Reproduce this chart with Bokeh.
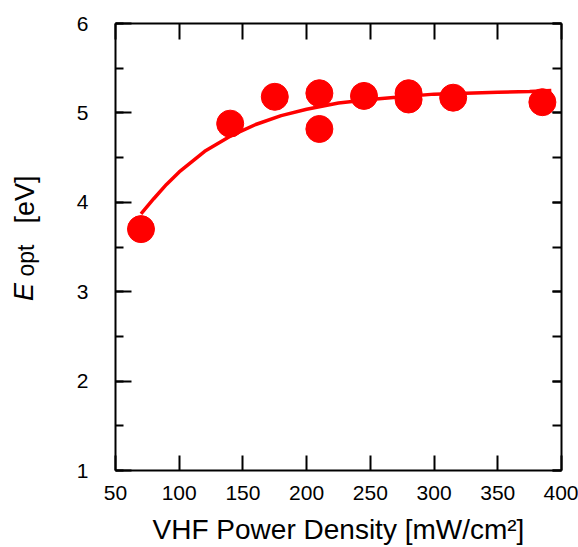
from math import pi
from bokeh.plotting import figure
from bokeh.layouts import row
from bokeh.models import Range1d, LinearAxis, SingleIntervalTicker, Label, CustomJSTickFormatter
from bokeh.embed import file_html
from bokeh.resources import INLINE

# measured points
power = [70, 140, 175, 210, 210, 245, 280, 280, 315, 385]
eopt = [3.70, 4.88, 5.18, 5.22, 4.82, 5.19, 5.22, 5.15, 5.17, 5.12]

# fitted curve
fit_power = [70, 80, 90, 100, 120, 140, 160, 180, 200, 225, 250, 275, 300, 325, 350, 375, 392]
fit_eopt = [3.87, 4.04, 4.20, 4.34, 4.57, 4.74, 4.87, 4.97, 5.04, 5.11, 5.15, 5.18, 5.21, 5.22, 5.23, 5.24, 5.25]

x_label = "VHF Power Density [mW/cm²]"
y_label_main = "E"
y_label_sub = "opt"
y_label_unit = "[eV]"

RED = "#ff0000"
FONT = "Liberation Sans"
LABW = 73
TOP, BOTTOM = 23, 77

# ---- main plot ----
p = figure(width=578 - LABW, height=547, x_range=Range1d(50, 400), y_range=Range1d(1, 6),
           output_backend="svg", toolbar_location=None,
           min_border_left=113 - LABW, min_border_right=17, min_border_top=TOP, min_border_bottom=BOTTOM)
p.outline_line_color = None
p.xgrid.visible = False
p.ygrid.visible = False

xa = p.xaxis[0]
xa.ticker = SingleIntervalTicker(interval=50, num_minor_ticks=0)
xa.major_tick_in = 15
xa.major_tick_out = 0
xa.minor_tick_in = 0
xa.minor_tick_out = 0
xa.axis_line_width = 2
xa.major_tick_line_width = 2
xa.major_label_text_font = FONT
xa.major_label_text_font_size = "21px"
xa.major_label_text_color = "black"
xa.major_label_standoff = 15
xa.axis_label = x_label
xa.axis_label_text_font = FONT
xa.axis_label_text_font_size = "28px"
xa.axis_label_text_font_style = "normal"
xa.axis_label_text_color = "black"
xa.axis_label_standoff = 11

ya = p.yaxis[0]
ya.ticker = SingleIntervalTicker(interval=1, num_minor_ticks=2)
ya.major_tick_in = 16
ya.major_tick_out = 0
ya.minor_tick_in = 8
ya.minor_tick_out = 0
ya.axis_line_width = 2
ya.major_tick_line_width = 2
ya.minor_tick_line_width = 2
ya.major_label_text_font = FONT
ya.major_label_text_font_size = "21px"
ya.major_label_text_color = "black"
ya.major_label_standoff = 27

blank = CustomJSTickFormatter(code="return ''")
top = LinearAxis(ticker=SingleIntervalTicker(interval=50, num_minor_ticks=0), formatter=blank,
                 major_tick_in=16, major_tick_out=0, minor_tick_in=0, minor_tick_out=0,
                 axis_line_width=2, major_tick_line_width=2, major_label_standoff=0)
p.add_layout(top, "above")
right = LinearAxis(ticker=SingleIntervalTicker(interval=1, num_minor_ticks=2), formatter=blank,
                   major_tick_in=9, major_tick_out=0, minor_tick_in=9, minor_tick_out=0,
                   axis_line_width=2, major_tick_line_width=2, minor_tick_line_width=2,
                   major_label_standoff=0)
p.add_layout(right, "right")

p.line(fit_power, fit_eopt, line_color=RED, line_width=3.5)
p.scatter(power, eopt, size=27, marker="circle", fill_color=RED, line_color=RED)

# ---- y-axis title strip; its frame is aligned with the main frame,
# so its y range is expressed in page pixels of that frame ----
ylab = figure(width=LABW, height=547, x_range=Range1d(0, LABW), y_range=Range1d(547 - BOTTOM, TOP),
              output_backend="svg", toolbar_location=None,
              x_axis_location=None, y_axis_location=None,
              min_border_left=0, min_border_right=0, min_border_top=TOP, min_border_bottom=BOTTOM)
ylab.outline_line_color = None
ylab.xgrid.visible = False
ylab.ygrid.visible = False

common = dict(angle=pi / 2, text_align="center", text_baseline="middle",
              text_color="black", text_font=FONT)
ylab.add_layout(Label(x=23, y=291.5, text=y_label_main, text_font_size="27px",
                      text_font_style="italic", **common))
ylab.add_layout(Label(x=25.5, y=260, text=y_label_sub, text_font_size="23px", **common))
ylab.add_layout(Label(x=24, y=199, text=y_label_unit, text_font_size="27px", **common))

layout = row(ylab, p, spacing=0)
open("out.html", "w").write(file_html(layout, INLINE))
